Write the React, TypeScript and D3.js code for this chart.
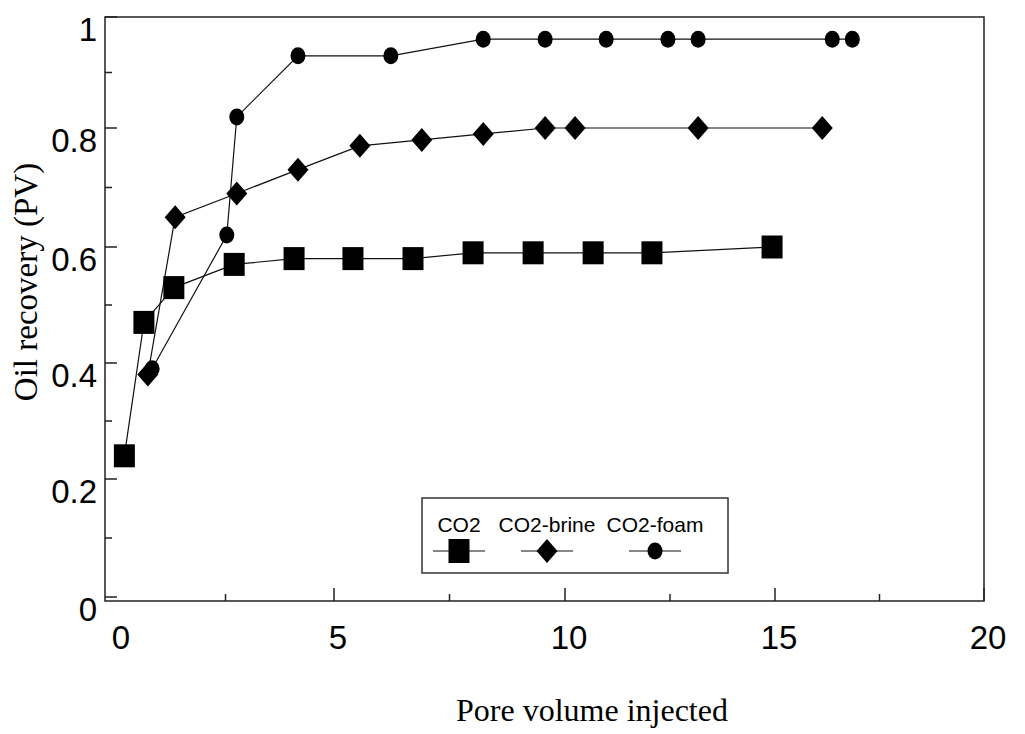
import React, { useRef, useEffect } from 'react';
import * as d3 from 'd3';

// values
const co2X = [0.17, 0.62, 1.31, 2.7, 4.08, 5.41, 6.71, 8.01, 9.31, 10.67, 12.07, 14.93];
const co2Y = [0.24, 0.47, 0.53, 0.57, 0.58, 0.58, 0.58, 0.59, 0.59, 0.59, 0.59, 0.6];
const brineX = [0.71, 1.34, 2.76, 4.17, 5.56, 6.9, 8.23, 9.57, 10.24, 13.17, 16.13];
const brineY = [0.38, 0.65, 0.69, 0.73, 0.77, 0.78, 0.79, 0.8, 0.8, 0.8, 0.8];
const foamX = [0.81, 2.53, 2.76, 4.17, 6.23, 8.23, 9.57, 10.98, 12.45, 13.17, 16.37, 16.85];
const foamY = [0.39, 0.62, 0.82, 0.93, 0.93, 0.96, 0.96, 0.96, 0.96, 0.96, 0.96, 0.96];

const xTicks = [0, 5, 10, 15, 20];
const xMinor = [2.5, 7.5, 12.5, 17.5];
const yTicks = [0, 0.2, 0.4, 0.6, 0.8, 1];
const yMinor = [0.1, 0.3, 0.5, 0.7, 0.9];
const yTickLabels = ['0', '0.2', '0.4', '0.6', '0.8', '1'];
const seriesNames = ['CO2', 'CO2-brine', 'CO2-foam'];

const App = () => {
    const svgRef = useRef<SVGSVGElement>(null);

    useEffect(() => {
        const svg = d3.select(svgRef.current);
        svg.selectAll('*').remove();

        const width = 1025;
        const height = 734;

        // the scan is slightly uneven, so the scales follow the printed ticks
        const x = d3.scaleLinear().domain(xTicks).range([117, 334, 565, 775, 984]);
        const y = d3.scaleLinear().domain(yTicks).range([597, 479, 363, 247, 128, 17]);

        const left = 105;
        const right = x(20);
        const top = y(1);
        const bottom = 601;

        svg.attr('width', width).attr('height', height).attr('viewBox', [0, 0, width, height]);

        // frame
        svg.append('rect')
            .attr('x', left).attr('y', top)
            .attr('width', right - left).attr('height', bottom - top)
            .attr('fill', 'none').attr('stroke', '#222').attr('stroke-width', 1.5);

        // y ticks (inward)
        svg.append('g').selectAll('line').data(yTicks).join('line')
            .attr('x1', left).attr('x2', left + 12)
            .attr('y1', d => y(d)).attr('y2', d => y(d))
            .attr('stroke', '#222').attr('stroke-width', 1.5);
        svg.append('g').selectAll('line').data(yMinor).join('line')
            .attr('x1', left).attr('x2', left + 7)
            .attr('y1', d => y(d)).attr('y2', d => y(d))
            .attr('stroke', '#222').attr('stroke-width', 1.5);
        svg.append('g').selectAll('text').data(yTicks).join('text')
            .attr('x', 97).attr('y', d => y(d) + 24)
            .attr('text-anchor', 'end')
            .attr('font-family', 'Liberation Sans, Arial, sans-serif')
            .attr('font-size', 33)
            .text((d, i) => yTickLabels[i]);

        // x ticks (inward)
        svg.append('g').selectAll('line').data(xTicks.slice(1)).join('line')
            .attr('x1', d => x(d)).attr('x2', d => x(d))
            .attr('y1', bottom).attr('y2', bottom - 13)
            .attr('stroke', '#222').attr('stroke-width', 1.5);
        svg.append('g').selectAll('line').data(xMinor).join('line')
            .attr('x1', d => x(d)).attr('x2', d => x(d))
            .attr('y1', bottom).attr('y2', bottom - 7)
            .attr('stroke', '#222').attr('stroke-width', 1.5);
        svg.append('g').selectAll('text').data(xTicks).join('text')
            .attr('x', d => x(d) + 4).attr('y', 649)
            .attr('text-anchor', 'middle')
            .attr('font-family', 'Liberation Sans, Arial, sans-serif')
            .attr('font-size', 33)
            .text(d => d);

        // axis titles
        svg.append('text')
            .attr('x', 592).attr('y', 721)
            .attr('text-anchor', 'middle')
            .attr('font-family', 'Liberation Serif, Times New Roman, serif')
            .attr('font-size', 32)
            .text('Pore volume injected');
        svg.append('text')
            .attr('transform', 'translate(37,282) rotate(-90)')
            .attr('text-anchor', 'middle')
            .attr('font-family', 'Liberation Serif, Times New Roman, serif')
            .attr('font-size', 33)
            .text('Oil recovery (PV)');

        const line = d3.line<[number, number]>()
            .x(d => x(d[0]))
            .y(d => y(d[1]));

        const co2 = co2X.map((v, i) => [v, co2Y[i]] as [number, number]);
        const brine = brineX.map((v, i) => [v, brineY[i]] as [number, number]);
        const foam = foamX.map((v, i) => [v, foamY[i]] as [number, number]);

        [co2, brine, foam].forEach(s => {
            svg.append('path')
                .attr('d', line(s))
                .attr('fill', 'none')
                .attr('stroke', '#111')
                .attr('stroke-width', 1.2);
        });

        const diamond = (cx: number, cy: number) =>
            `M${cx},${cy - 12}L${cx + 10.5},${cy}L${cx},${cy + 12}L${cx - 10.5},${cy}Z`;

        svg.append('g').selectAll('rect').data(co2).join('rect')
            .attr('x', d => x(d[0]) - 10.5).attr('y', d => y(d[1]) - 11.5)
            .attr('width', 21).attr('height', 23)
            .attr('fill', '#000');
        svg.append('g').selectAll('path').data(brine).join('path')
            .attr('d', d => diamond(x(d[0]), y(d[1])))
            .attr('fill', '#000');
        svg.append('g').selectAll('ellipse').data(foam).join('ellipse')
            .attr('cx', d => x(d[0])).attr('cy', d => y(d[1]))
            .attr('rx', 7.5).attr('ry', 8.5)
            .attr('fill', '#000');

        // legend
        const legend = svg.append('g');
        legend.append('rect')
            .attr('x', 422).attr('y', 498).attr('width', 306).attr('height', 75)
            .attr('fill', 'white').attr('stroke', '#333').attr('stroke-width', 1.5);
        const centers = [459, 547, 655];
        legend.selectAll('text').data(seriesNames).join('text')
            .attr('x', (d, i) => centers[i]).attr('y', 532)
            .attr('text-anchor', 'middle')
            .attr('font-family', 'Liberation Sans, Arial, sans-serif')
            .attr('font-size', 21)
            .text(d => d);
        legend.selectAll('line').data(centers).join('line')
            .attr('x1', d => d - 26).attr('x2', d => d + 26)
            .attr('y1', 551).attr('y2', 551)
            .attr('stroke', '#111').attr('stroke-width', 1.2);
        legend.append('rect')
            .attr('x', centers[0] - 10.5).attr('y', 551 - 12)
            .attr('width', 21).attr('height', 24).attr('fill', '#000');
        legend.append('path')
            .attr('d', diamond(centers[1], 551)).attr('fill', '#000');
        legend.append('ellipse')
            .attr('cx', centers[2]).attr('cy', 551)
            .attr('rx', 7.5).attr('ry', 8.5).attr('fill', '#000');
    }, []);

    return <svg ref={svgRef} style={{ position: 'absolute', left: 0, top: 0 }}></svg>;
};

export default App;
